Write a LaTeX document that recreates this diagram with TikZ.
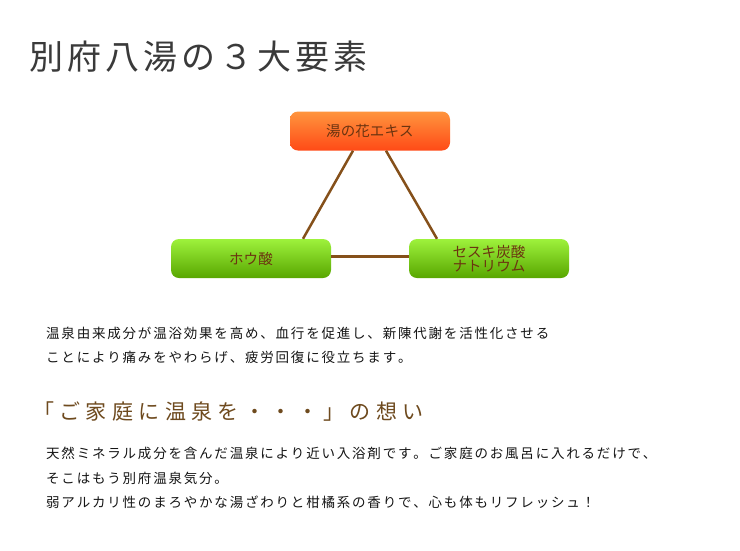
\documentclass[tikz,border=0pt]{standalone}
\usepackage{fontspec}
\setmainfont{Noto Sans CJK JP}
\usetikzlibrary{calc,shadings}
\definecolor{titlegray}{HTML}{3A3A3A}
\definecolor{bodyblack}{HTML}{151515}
\definecolor{headbrown}{HTML}{6E4A1E}
\definecolor{boxtext}{HTML}{6B3410}
\definecolor{linkbrown}{HTML}{85501A}
\definecolor{orangetop}{HTML}{FF953E}
\definecolor{orangebot}{HTML}{FF4A16}
\definecolor{greentop}{HTML}{9EF23C}
\definecolor{greenbot}{HTML}{58A600}
\newcommand\trk[2]{\def\trkamt{#1}\trkaux#2\relax}
\def\trkaux#1{\ifx\relax#1\else#1\hspace{\trkamt}\expandafter\trkaux\fi}
\tikzset{
  titletext/.style={anchor=west, inner sep=0pt, text=titlegray, font=\fontsize{34}{40}\selectfont},
  bodytext/.style={anchor=west, inner sep=0pt, text=bodyblack, font=\fontsize{13.5}{16}\selectfont},
  headtext/.style={anchor=west, inner sep=0pt, text=headbrown, font=\fontsize{21}{25}\selectfont},
  elembox/.style={rounded corners=8pt, minimum width=160pt, minimum height=39pt, inner sep=0pt,
    text=boxtext, align=center, font=\fontsize{14.5}{16}\selectfont},
  orangebox/.style={elembox, top color=orangetop, bottom color=orangebot},
  greenbox/.style={elembox, top color=greentop, bottom color=greenbot},
  link/.style={draw=linkbrown, line width=2.5pt}
}
\begin{document}
\begin{tikzpicture}[x=1pt,y=-1pt]
\useasboundingbox[fill=white] (0,0) rectangle (740,550);
\node[titletext] (ttl) at (29,57) {\trk{4pt}{別府八湯の３大要素}};
\node[orangebox] (top) at (370,131) {\trk{0.1pt}{湯の花エキス}};
\node[greenbox] (left) at (251,258.5) {\trk{0.1pt}{ホウ酸}};
\node[greenbox] (right) at (489,258.5) {\trk{0.1pt}{セスキ炭酸}\\[-1.5pt]\trk{0.1pt}{ナトリウム}};
\draw[link] ($(top.south)+(-17,0)$) -- ($(left.north)+(52,0)$);
\draw[link] ($(top.south)+(16,0)$) -- ($(right.north)+(-52,0)$);
\draw[link] ($(left.east)+(0,-2)$) -- ($(right.west)+(0,-2)$);
\node[bodytext] (b1) at (46,333) {\trk{1.8pt}{温泉由来成分が温浴効果を高め、血行を促進し、新陳代謝を活性化させる}};
\node[bodytext] (b2) at (46,357) {\trk{1.8pt}{ことにより痛みをやわらげ、疲労回復に役立ちます。}};
\node[headtext] (hd) at (33,412) {\trk{5.4pt}{「ご家庭に温泉を・・・」の想い}};
\node[bodytext] (c1) at (46,453) {\trk{1.8pt}{天然ミネラル成分を含んだ温泉により近い入浴剤です。ご家庭のお風呂に入れるだけで、}};
\node[bodytext] (c2) at (46,478) {\trk{1.8pt}{そこはもう別府温泉気分。}};
\node[bodytext] (c3) at (46,502) {\trk{1.8pt}{弱アルカリ性のまろやかな湯ざわりと柑橘系の香りで、心も体もリフレッシュ！}};
\end{tikzpicture}
\end{document}
